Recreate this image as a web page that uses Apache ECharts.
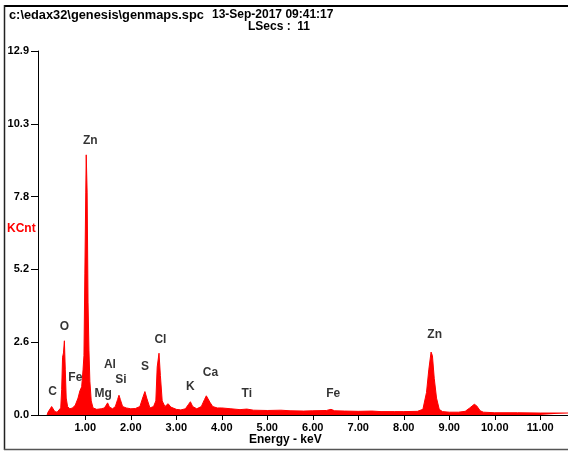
<!DOCTYPE html>
<html>
<head>
<meta charset="utf-8">
<script src="https://cdn.jsdelivr.net/npm/echarts@6/dist/echarts.min.js"></script>
<style>
html,body{margin:0;padding:0;background:#fff;}
#chart{width:568px;height:451px;}
</style>
</head>
<body>
<div id="chart"></div>
<script>
// ---- data ----
var energies = [0.16,0.18,0.22,0.26,0.28,0.30,0.33,0.38,0.42,0.46,0.48,0.50,0.52,0.54,0.56,0.58,0.61,0.66,0.72,0.78,0.84,0.88,0.92,0.95,0.97,0.99,1.01,1.02,1.04,1.06,1.08,1.10,1.13,1.17,1.25,1.35,1.42,1.46,1.49,1.53,1.60,1.66,1.71,1.74,1.77,1.82,1.90,2.00,2.10,2.20,2.27,2.31,2.35,2.42,2.50,2.55,2.58,2.62,2.65,2.69,2.75,2.82,2.88,3.00,3.10,3.20,3.27,3.31,3.36,3.45,3.55,3.62,3.66,3.70,3.74,3.80,3.90,4.00,4.20,4.40,4.55,4.70,5.00,5.30,5.50,5.80,6.00,6.30,6.40,6.48,6.70,7.00,7.30,7.50,7.80,8.00,8.30,8.42,8.50,8.55,8.60,8.63,8.67,8.72,8.78,8.85,9.00,9.20,9.35,9.45,9.55,9.60,9.68,9.75,10.00,10.50,11.00,11.61];
var counts   = [0.00,0.10,0.12,0.30,0.35,0.28,0.12,0.10,0.12,0.25,0.90,2.05,2.20,2.63,1.60,0.60,0.30,0.22,0.25,0.35,0.60,0.85,1.00,1.60,2.10,5.00,7.90,9.22,7.90,4.00,2.30,1.20,0.50,0.25,0.20,0.22,0.25,0.35,0.43,0.28,0.22,0.30,0.55,0.70,0.55,0.30,0.25,0.22,0.23,0.30,0.65,0.83,0.60,0.25,0.30,0.50,1.70,2.19,1.40,0.50,0.30,0.40,0.28,0.20,0.18,0.22,0.38,0.47,0.30,0.22,0.30,0.55,0.68,0.70,0.45,0.30,0.25,0.25,0.22,0.19,0.21,0.17,0.16,0.17,0.15,0.14,0.15,0.16,0.20,0.15,0.14,0.13,0.14,0.12,0.12,0.12,0.13,0.20,0.80,1.60,2.23,2.10,1.30,0.60,0.20,0.12,0.10,0.10,0.13,0.25,0.38,0.33,0.15,0.10,0.08,0.08,0.07,0.07];
var peakNames = ['C','O','Fe','Mg','Al','Si','S','Cl','K','Ca','Ti','Fe','Zn','Zn'];
var peakX     = [0.28,0.54,0.78,1.39,1.54,1.78,2.31,2.65,3.31,3.75,4.55,6.45,1.11,8.68];
var peakY     = [0.82,3.13,1.32,0.74,1.77,1.24,1.71,2.66,1.01,1.49,0.74,0.74,9.73,2.84];
var xTicks = [1,2,3,4,5,6,7,8,9,10,11];
var yTickValues = [0,2.58,5.16,7.74,10.32,12.9];
var yTickLabels = ['0.0','2.6','5.2','7.8','10.3','12.9'];
var headerPath = 'c:\\edax32\\genesis\\genmaps.spc';
var headerDate = '13-Sep-2017 09:41:17';
var headerLive = 'LSecs :  11';
var yName = 'KCnt';
var xName = 'Energy - keV';

// ---- build ----
var spectrum = energies.map(function(e,i){return [e,counts[i]];});
var peaks = peakNames.map(function(n,i){return [peakX[i],peakY[i],n];});
var FONT = '"Liberation Sans", Arial, sans-serif';

var chart = echarts.init(document.getElementById('chart'), null, {renderer:'canvas'});
chart.setOption({
  animation:false,
  grid:{left:38, top:51, width:530, height:364},
  xAxis:{
    type:'value', min:-0.04, max:11.61,
    axisLine:{show:true, onZero:false, lineStyle:{color:'#000', width:1}},
    axisTick:{show:true, length:5, customValues:xTicks, lineStyle:{color:'#000'}},
    axisLabel:{show:true, customValues:xTicks, margin:7, color:'#000', fontSize:11, fontWeight:'bold', fontFamily:FONT,
      formatter:function(v){return Number(v).toFixed(2);}},
    splitLine:{show:false}
  },
  yAxis:{
    type:'value', min:0, max:12.9,
    axisLine:{show:true, onZero:false, lineStyle:{color:'#000', width:1}},
    axisTick:{show:true, length:7, customValues:yTickValues, lineStyle:{color:'#000'}},
    axisLabel:{show:true, customValues:yTickValues, margin:9, color:'#000', fontSize:11, fontWeight:'bold', fontFamily:FONT,
      formatter:function(v){
        var best=0;for(var i=0;i<yTickValues.length;i++){if(Math.abs(yTickValues[i]-v)<Math.abs(yTickValues[best]-v))best=i;}
        return yTickLabels[best];}},
    splitLine:{show:false}
  },
  series:[
    {type:'line', data:spectrum, symbol:'none', clip:true,
     lineStyle:{color:'#ff0000', width:1}, areaStyle:{color:'#ff0000', opacity:1}, z:2},
    {type:'scatter', data:peaks, symbolSize:1, itemStyle:{color:'rgba(0,0,0,0)'},
     label:{show:true, position:'inside', color:'#000', fontSize:12, fontWeight:'bold', fontFamily:FONT,
       formatter:function(p){return p.data[2];}}, z:3}
  ],
  graphic:[
    {type:'line', shape:{x1:4, y1:6, x2:568, y2:6}, style:{stroke:'#000', lineWidth:2}},
    {type:'line', shape:{x1:4.5, y1:5, x2:4.5, y2:450}, style:{stroke:'#222', lineWidth:1.5}},
    {type:'line', shape:{x1:4, y1:449.5, x2:568, y2:449.5}, style:{stroke:'#555', lineWidth:1.5}},
    {type:'text', left:9, top:9, style:{text:headerPath, fill:'#000', font:'bold 12.8px '+FONT}},
    {type:'text', left:212, top:9, style:{text:headerDate, fill:'#000', font:'bold 12px '+FONT}},
    {type:'text', left:248, top:21, style:{text:headerLive, fill:'#000', font:'bold 12px '+FONT}},
    {type:'text', left:7, top:223, style:{text:yName, fill:'#ff0000', font:'bold 12px '+FONT}},
    {type:'text', left:249, top:434, style:{text:xName, fill:'#000', font:'bold 12px '+FONT}}
  ]
});
</script>
</body>
</html>
